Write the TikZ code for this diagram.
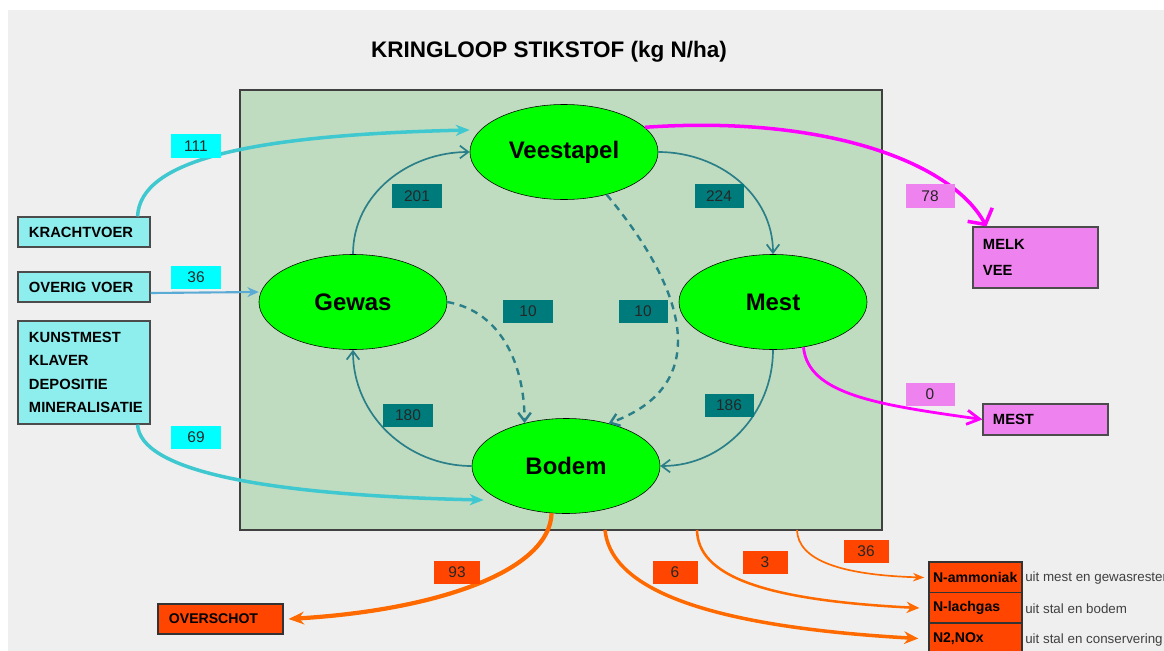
\documentclass[tikz,border=0pt]{standalone}
\usepackage{fontspec}
\setmainfont{Liberation Sans}
\usetikzlibrary{shapes.geometric,arrows.meta}

\definecolor{paneel}{HTML}{EFEFEF}
\definecolor{kader}{HTML}{C0DCC0}
\definecolor{poelgroen}{HTML}{00FF00}
\definecolor{blauwgroen}{HTML}{007B7B}
\definecolor{pijlteal}{HTML}{2A7F88}
\definecolor{cyaan}{HTML}{00FFFF}
\definecolor{cyaanbox}{HTML}{8EEEEE}
\definecolor{cyaanpijl}{HTML}{3FC8CF}
\definecolor{blauwpijl}{HTML}{5AAAD6}
\definecolor{paars}{HTML}{EE82EE}
\definecolor{roze}{HTML}{FF00FF}
\definecolor{oranjerood}{HTML}{FF4500}
\definecolor{oranje}{HTML}{FF6A00}

\begin{document}
\begin{tikzpicture}[x=0.025cm,y=-0.025cm,
    pool/.style={ellipse,draw=black,fill=poelgroen,minimum width=4.7cm,minimum height=2.375cm,inner sep=0pt,
      font=\fontsize{17}{20}\selectfont\bfseries},
    getal/.style={minimum width=1.225cm,minimum height=0.575cm,inner sep=0pt,text=black!85,
      font=\fontsize{11}{13}\selectfont},
    bron/.style={draw=black!70,line width=0.8pt,fill=cyaanbox,align=left,inner xsep=0.275cm,text width=2.75cm,
      font=\fontsize{10.5}{16.7}\selectfont\bfseries},
    afvoer/.style={draw=black!70,line width=0.8pt,fill=paars,align=left,inner xsep=0.25cm,text width=2.625cm,
      font=\fontsize{10.5}{18.5}\selectfont\bfseries},
    verlies/.style={draw=black!80,line width=1pt,fill=oranjerood,align=left,
      font=\fontsize{10}{12}\selectfont\bfseries},
    toelichting/.style={anchor=west,inner sep=0pt,text=black!75,font=\fontsize{9.5}{11}\selectfont}]

  \useasboundingbox (0,0) rectangle (1164,651);
  \fill[paneel] (8,10) rectangle (1164,651);
  \draw[black!75,line width=1pt,fill=kader] (240,90) rectangle (882,530);

  \node[font=\fontsize{16}{19}\selectfont\bfseries] (titel) at (549,52) {KRINGLOOP STIKSTOF (kg N/ha)};

  \begin{scope}[every node/.style={pool}]
    \node (veestapel) at (564,152) {Veestapel};
    \node (gewas)     at (353,302) {Gewas};
    \node (mest)      at (773,302) {Mest};
    \node (bodem)     at (566,466) {Bodem};
  \end{scope}

  \begin{scope}[every node/.style={bron}]
    \node[minimum height=0.75cm]  (krachtvoer) at (84,232)   {KRACHTVOER};
    \node[minimum height=0.75cm]  (overigvoer) at (84,287)   {OVERIG VOER};
    \node[minimum height=2.575cm] (kunstmest)  at (84,372.5) {KUNSTMEST\\KLAVER\\DEPOSITIE\\MINERALISATIE};
  \end{scope}

  \begin{scope}[every node/.style={afvoer}]
    \node[minimum height=1.525cm] (melk)    at (1035.5,257.5) {MELK\\VEE};
    \node[minimum height=0.775cm] (mestuit) at (1045.5,419.5) {MEST};
  \end{scope}

  \begin{scope}[every node/.style={verlies}]
    \node[inner xsep=0.275cm,text width=2.575cm,minimum height=0.75cm] (overschot) at (220.5,619) {OVERSCHOT};
    \node[inner xsep=0.1cm,text width=2.125cm,minimum height=0.775cm] (nammoniak) at (975.5,577.5) {N-ammoniak};
    \node[inner xsep=0.1cm,text width=2.125cm,minimum height=0.775cm] (nlachgas)  at (975.5,608)   {N-lachgas};
    \node[inner xsep=0.1cm,text width=2.125cm,minimum height=0.775cm] (n2nox)     at (975.5,638.5) {N2,NOx};
  \end{scope}

  \node[toelichting] (tA) at (1025,578) {uit mest en gewasresten};
  \node[toelichting] (tB) at (1025,609) {uit stal en bodem};
  \node[toelichting] (tC) at (1025,640) {uit stal en conservering};

  \coordinate (uitA) at (605,530);
  \coordinate (uitB) at (697,530);
  \coordinate (uitC) at (797,530);

  % kringloop
  \begin{scope}[every edge/.style={draw=pijlteal,line width=1.2pt,-{Straight Barb[length=6pt,width=9pt]}}]
    \path (gewas.north) edge[out=90,in=180] (veestapel.west);
    \path (veestapel.east) edge[out=0,in=90] (mest.north);
    \path (mest.south) edge[out=-90,in=0] (bodem.east);
    \path (bodem.west) edge[out=180,in=-90] (gewas.south);
  \end{scope}
  \begin{scope}[every edge/.style={draw=pijlteal,line width=1.7pt,dash pattern=on 5pt off 4pt,
      -{Straight Barb[length=6pt,width=9pt]}}]
    \path (gewas.east) edge[out=-10,in=90] (bodem.134);
    \path (veestapel.-45) edge[out=-50,in=20,looseness=1.3] (bodem.45);
  \end{scope}

  % aanvoer
  \draw[cyaanpijl,line width=2.5pt,-{Stealth[length=10pt,width=8pt]}]
    ([xshift=-0.325cm]krachtvoer.north east) .. controls (140,160) and (250,135) .. ([yshift=0.55cm]veestapel.west);
  \draw[blauwpijl,line width=1.5pt,-{Stealth[length=8pt,width=7pt]}]
    ([yshift=-0.15cm]overigvoer.east) -- ([yshift=0.25cm]gewas.west);
  \draw[cyaanpijl,line width=2.5pt,-{Stealth[length=10pt,width=8pt]}]
    ([xshift=-0.325cm]kunstmest.south east) .. controls (140,470) and (260,495) .. ([xshift=0.3cm,yshift=-0.85cm]bodem.west);

  % afvoer
  \draw[roze,line width=2.5pt,-{Straight Barb[length=8pt,width=20pt]}]
    (veestapel.17) .. controls (820,115) and (950,160) .. ([xshift=0.35cm]melk.north west);
  \draw[roze,line width=2pt,-{Straight Barb[length=9pt,width=10pt]}]
    (mest.-56) .. controls (808,395) and (880,405) .. (mestuit.west);

  % verliezen
  \draw[oranje,line width=3pt,-{Stealth[length=11pt,width=9pt]}]
    (bodem.-107) .. controls (550,570) and (440,610) .. ([xshift=0.12cm]overschot.east);
  \draw[oranje,line width=2.5pt,-{Stealth[length=10pt,width=9pt]}]
    (uitA) .. controls (610,580) and (680,625) .. ([xshift=-0.25cm]n2nox.west);
  \draw[oranje,line width=1.8pt,-{Stealth[length=9pt,width=8pt]}]
    (uitB) .. controls (698,575) and (760,600) .. ([xshift=-0.225cm]nlachgas.west);
  \draw[oranje,line width=1.2pt,-{Stealth[length=8pt,width=6pt]}]
    (uitC) .. controls (798,560) and (840,575) .. ([xshift=-0.1cm]nammoniak.west);

  % getallen
  \begin{scope}[every node/.style={getal,fill=blauwgroen}]
    \node (n201) at (417,196) {201};
    \node (n224) at (719,196) {224};
    \node (n10a) at (528,311) {10};
    \node (n10b) at (643,311) {10};
    \node (n180) at (408,415) {180};
    \node (n186) at (729,405) {186};
  \end{scope}
  \begin{scope}[every node/.style={getal,fill=cyaan}]
    \node (n111) at (196,146) {111};
    \node (n36)  at (196,277) {36};
    \node (n69)  at (196,437) {69};
  \end{scope}
  \begin{scope}[every node/.style={getal,fill=paars}]
    \node (n78) at (930,196) {78};
    \node (n0)  at (930,394) {0};
  \end{scope}
  \begin{scope}[every node/.style={getal,fill=oranjerood,minimum width=1.125cm}]
    \node (n93)  at (457,572) {93};
    \node (n6)   at (675,572) {6};
    \node (n3)   at (765,562) {3};
    \node (n36b) at (866,551) {36};
  \end{scope}

\end{tikzpicture}
\end{document}
